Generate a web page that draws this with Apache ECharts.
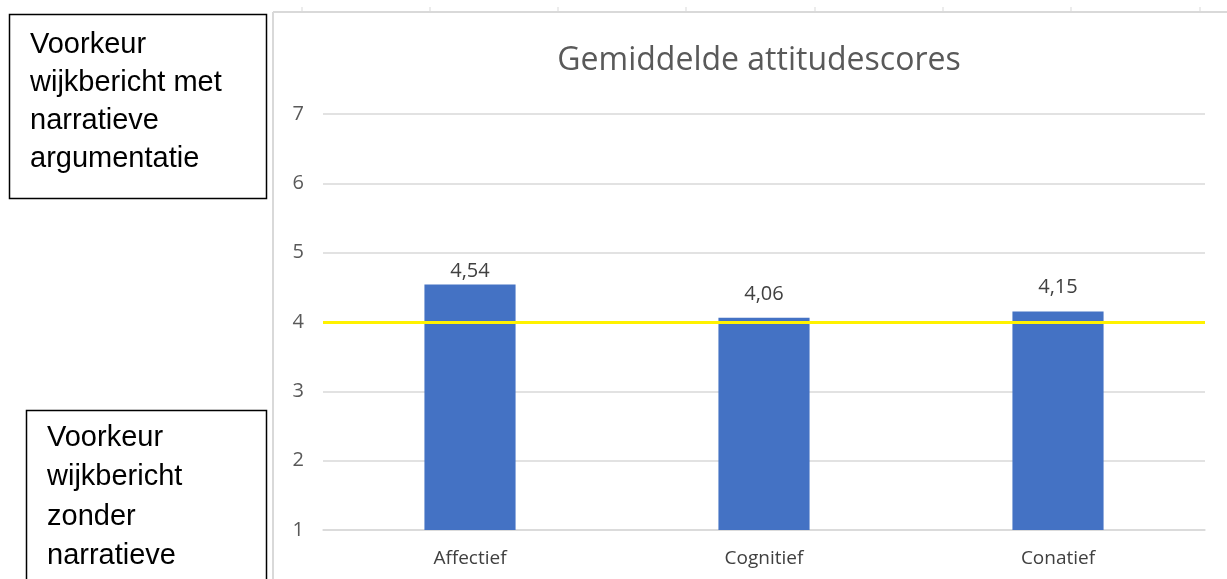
<!DOCTYPE html>
<html>
<head>
<meta charset="utf-8">
<title>Gemiddelde attitudescores</title>
<script src="https://cdn.jsdelivr.net/npm/echarts@6/dist/echarts.min.js"></script>
<style>
  html, body { margin: 0; padding: 0; background: #fff; }
  #main { width: 1227px; height: 579px; }
</style>
</head>
<body>
<div id="main"></div>
<script>
// data
var categories = ['Affectief', 'Cognitief', 'Conatief'];
var scores = [4.54, 4.06, 4.15];
var threshold = 4;
var yTicks = [1, 7, 1]; // min, max, interval
var noteTop = ['Voorkeur', 'wijkbericht met', 'narratieve', 'argumentatie'];
var noteBottom = ['Voorkeur', 'wijkbericht', 'zonder', 'narratieve'];
var rulerX = [302, 430, 558, 686, 815, 943, 1071, 1200];

function fmt(v) {
    return v.toFixed(2).replace('.', ',');
}

var uiFont = '"Open Sans", "Noto Sans", sans-serif';
var noteFont = '29px "Liberation Sans", Arial, sans-serif';

// frame + ruler ticks + the two note boxes
var graphics = [
    { type: 'line', shape: { x1: 273, y1: 12, x2: 1227, y2: 12 }, style: { stroke: '#d9d9d9', lineWidth: 2 } },
    { type: 'line', shape: { x1: 273, y1: 12, x2: 273, y2: 579 }, style: { stroke: '#d9d9d9', lineWidth: 2 } },
    { type: 'rect', shape: { x: 9.5, y: 14.5, width: 257, height: 184 }, style: { fill: '#fff', stroke: '#000', lineWidth: 1.5 } },
    { type: 'text', left: 30, top: 26, style: { text: noteTop.join('\n'), font: noteFont, fill: '#000', lineHeight: 38 } },
    { type: 'rect', shape: { x: 26.5, y: 410.5, width: 240, height: 200 }, style: { fill: '#fff', stroke: '#000', lineWidth: 1.5 } },
    { type: 'text', left: 47, top: 418, style: { text: noteBottom.join('\n'), font: noteFont, fill: '#000', lineHeight: 39.5 } }
];
rulerX.forEach(function (x) {
    graphics.push({ type: 'line', shape: { x1: x, y1: 7, x2: x, y2: 12 }, style: { stroke: '#d9d9d9', lineWidth: 1 } });
});

// labels of the low bars sit a bit higher, as in the original
var barData = scores.map(function (v) {
    return { value: v, label: { distance: v - threshold < 0.3 ? 14 : 3 } };
});

var option = {
    backgroundColor: '#fff',
    animation: false,
    title: {
        text: 'Gemiddelde attitudescores',
        left: 754,
        top: 40,
        textAlign: 'center',
        textStyle: { color: '#595959', fontSize: 32, fontWeight: 'normal', fontFamily: uiFont }
    },
    grid: { left: 323, right: 22, top: 114, bottom: 49 },
    xAxis: {
        type: 'category',
        data: categories,
        axisLine: { lineStyle: { color: '#d9d9d9', width: 1.5 } },
        axisTick: { show: false },
        axisLabel: { color: '#404040', fontSize: 19, margin: 19, fontFamily: uiFont }
    },
    yAxis: {
        type: 'value',
        min: yTicks[0],
        max: yTicks[1],
        interval: yTicks[2],
        axisLine: { show: false },
        axisTick: { show: false },
        axisLabel: { color: '#595959', fontSize: 20, margin: 19, fontFamily: uiFont },
        splitLine: { lineStyle: { color: '#d9d9d9', width: 1.5 } }
    },
    series: [{
        type: 'bar',
        data: barData,
        barWidth: '31%',
        itemStyle: { color: '#4472C4' },
        label: {
            show: true,
            position: 'top',
            distance: 3,
            color: '#404040',
            fontSize: 20,
            fontFamily: uiFont,
            formatter: function (p) { return fmt(p.value); }
        },
        markLine: {
            silent: true,
            symbol: 'none',
            label: { show: false },
            lineStyle: { color: '#FFF200', width: 3, type: 'solid' },
            data: [{ yAxis: threshold }]
        }
    }],
    graphic: graphics
};

var myChart = echarts.init(document.getElementById('main'));
myChart.setOption(option);
</script>
</body>
</html>
